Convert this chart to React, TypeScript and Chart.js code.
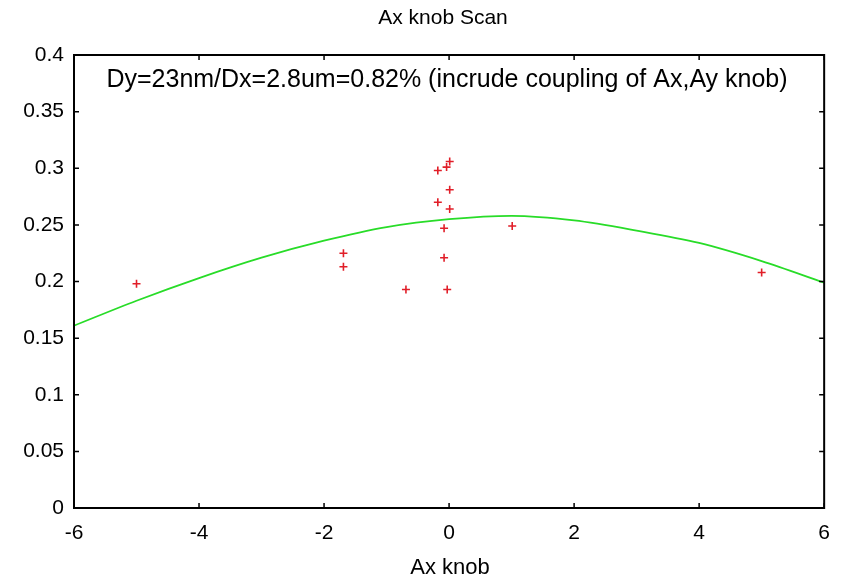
import React, { useEffect, useRef } from "react";
import { Chart, registerables } from "chart.js";

Chart.register(...registerables);

const TITLE = "Ax knob Scan";
const X_LABEL = "Ax knob";
const NOTE = "Dy=23nm/Dx=2.8um=0.82% (incrude coupling of Ax,Ay knob)";

const scanX = [-5, -1.69, -1.69, -0.69, -0.18, -0.18, -0.08, -0.08, -0.04, -0.03, 0.01, 0.01, 0.01, 1.01, 5];
const scanY = [0.198, 0.225, 0.213, 0.193, 0.298, 0.27, 0.247, 0.221, 0.301, 0.193, 0.306, 0.281, 0.264, 0.249, 0.208];

const fitX = [-6, -5, -4, -3, -2, -1, 0, 1, 2, 3, 4, 5, 6];
const fitY = [0.161, 0.183, 0.203, 0.221, 0.236, 0.248, 0.255, 0.258, 0.254, 0.245, 0.234, 0.218, 0.199];

const X_TICKS = [-6, -4, -2, 0, 2, 4, 6];
const Y_TICKS = [0, 0.05, 0.1, 0.15, 0.2, 0.25, 0.3, 0.35, 0.4];

const FONT = "'Liberation Sans', Arial, sans-serif";

const framePlugin = {
  id: "frame",
  afterDraw(chart: any) {
    const { ctx, chartArea: a, scales } = chart;
    const xs = scales.x;
    const ys = scales.y;
    ctx.save();
    ctx.strokeStyle = "#000";
    ctx.lineWidth = 2;
    ctx.strokeRect(a.left, a.top, a.right - a.left, a.bottom - a.top);
    ctx.lineWidth = 1.5;
    const tl = 5;
    ctx.beginPath();
    for (const v of X_TICKS) {
      const px = xs.getPixelForValue(v);
      ctx.moveTo(px, a.bottom);
      ctx.lineTo(px, a.bottom - tl);
      ctx.moveTo(px, a.top);
      ctx.lineTo(px, a.top + tl);
    }
    for (const v of Y_TICKS) {
      const py = ys.getPixelForValue(v);
      ctx.moveTo(a.left, py);
      ctx.lineTo(a.left + tl, py);
      ctx.moveTo(a.right, py);
      ctx.lineTo(a.right - tl, py);
    }
    ctx.stroke();
    ctx.fillStyle = "#000";
    ctx.textAlign = "center";
    ctx.textBaseline = "middle";
    ctx.font = `21px ${FONT}`;
    ctx.fillText(TITLE, 443, 18);
    ctx.font = `25px ${FONT}`;
    ctx.fillText(NOTE, 447, a.top + 25);
    ctx.font = `22px ${FONT}`;
    ctx.fillText(X_LABEL, 450, 568);
    ctx.restore();
  },
};

export default function App() {
  const ref = useRef<HTMLCanvasElement | null>(null);
  useEffect(() => {
    if (!ref.current) return;
    const chart = new Chart(ref.current, {
      type: "scatter",
      data: {
        datasets: [
          {
            type: "line",
            data: fitX.map((x, i) => ({ x, y: fitY[i] })),
            borderColor: "rgb(40,220,40)",
            borderWidth: 1.8,
            pointRadius: 0,
            tension: 0.4,
            cubicInterpolationMode: "monotone",
            fill: false,
          } as any,
          {
            type: "scatter",
            data: scanX.map((x, i) => ({ x, y: scanY[i] })),
            pointStyle: "cross",
            pointRadius: 4,
            borderWidth: 1.6,
            borderColor: "rgb(225,30,40)",
            backgroundColor: "rgb(225,30,40)",
          } as any,
        ],
      },
      options: {
        animation: false,
        responsive: false,
        maintainAspectRatio: false,
        layout: { padding: { top: 55, right: 16, left: 0, bottom: 0 } },
        plugins: {
          legend: { display: false },
          tooltip: { enabled: false },
          title: { display: false },
        },
        scales: {
          x: {
            type: "linear",
            min: -6,
            max: 6,
            afterBuildTicks: (s: any) => {
              s.ticks = X_TICKS.map((v) => ({ value: v }));
            },
            afterFit: (s: any) => {
              s.height = 74;
            },
            grid: { display: false, drawTicks: false },
            border: { display: false },
            ticks: {
              color: "#000",
              font: { family: FONT, size: 21 },
              padding: 13,
              maxRotation: 0,
              callback: (v: any) => String(v),
            },
          },
          y: {
            type: "linear",
            min: 0,
            max: 0.4,
            afterBuildTicks: (s: any) => {
              s.ticks = Y_TICKS.map((v) => ({ value: v }));
            },
            afterFit: (s: any) => {
              s.width = 74;
            },
            grid: { display: false, drawTicks: false },
            border: { display: false },
            ticks: {
              color: "#000",
              font: { family: FONT, size: 21 },
              padding: 10,
              callback: (v: any) => String(Math.round(v * 100) / 100),
            },
          },
        },
      },
      plugins: [framePlugin],
    });
    return () => chart.destroy();
  }, []);
  return (
    <div style={{ position: "fixed", left: 0, top: 0, width: 843, height: 582, background: "#fff" }}>
      <canvas ref={ref} width={843} height={582} style={{ width: 843, height: 582 }} />
    </div>
  );
}
